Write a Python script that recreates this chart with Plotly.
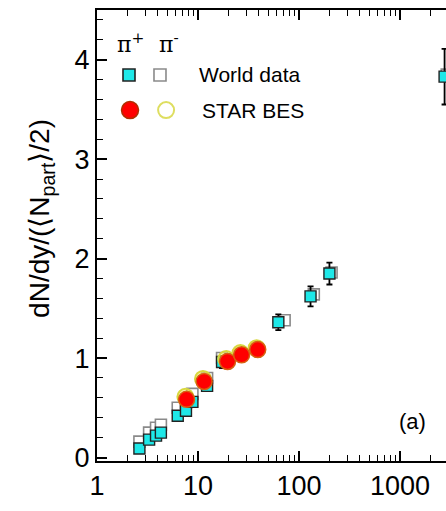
import plotly.graph_objects as go

# ---- data ----
world_energy = [2.63, 3.28, 3.84, 4.29, 6.3, 7.6, 8.8, 12.3, 17.3, 62.4, 130, 200, 2760]
pip_world = [0.09, 0.18, 0.22, 0.25, 0.42, 0.47, 0.56, 0.72, 0.96, 1.36, 1.62, 1.85, 3.83]
pip_world_err = [0.03, 0.03, 0.03, 0.03, 0.04, 0.04, 0.04, 0.05, 0.06, 0.08, 0.10, 0.11, 0.28]
pim_world_energy = [2.63, 3.28, 3.84, 4.29, 6.3, 7.6, 8.8, 12.3, 17.3, 72.0, 140, 210, 2900]
pim_world = [0.16, 0.25, 0.30, 0.33, 0.50, 0.55, 0.64, 0.80, 1.00, 1.38, 1.64, 1.86, 3.85]

star_energy = [7.7, 11.5, 19.6, 27.0, 39.0]
pip_star = [0.585, 0.765, 0.966, 1.033, 1.086]
pip_star_err = [0.06, 0.06, 0.07, 0.07, 0.07]
pim_star_energy = [7.5, 11.2, 19.0, 26.3, 38.0]
pim_star = [0.61, 0.79, 0.99, 1.05, 1.10]

x_tickvals = [1, 10, 100, 1000]
x_ticktext = ["1", "10", "100", "1000"]
y_tickvals = [0, 1, 2, 3, 4]

CYAN = "#1ee8e8"
FONT = "Liberation Sans, Arial, sans-serif"

fig = go.Figure()

# pi- world data (open gray squares)
fig.add_trace(go.Scatter(
    x=pim_world_energy, y=pim_world, mode="markers",
    marker=dict(symbol="square", size=11, color="white",
                line=dict(color="#8a8a8a", width=1.6)),
    showlegend=False))

# pi+ world data
fig.add_trace(go.Scatter(
    x=world_energy, y=pip_world, mode="markers",
    error_y=dict(type="data", array=pip_world_err, color="black", thickness=1.8, width=3),
    marker=dict(symbol="square", size=11, color=CYAN,
                line=dict(color="#222222", width=1.4)),
    showlegend=False))

# pi- STAR BES (open yellow circles)
fig.add_trace(go.Scatter(
    x=pim_star_energy, y=pim_star, mode="markers",
    marker=dict(symbol="circle", size=16, color="rgba(240,240,120,0.6)",
                line=dict(color="#d8d840", width=2)),
    showlegend=False))

# pi+ STAR BES
fig.add_trace(go.Scatter(
    x=star_energy, y=pip_star, mode="markers",
    error_y=dict(type="data", array=pip_star_err, color="black", thickness=1.8, width=3),
    marker=dict(symbol="circle", size=16, color="#ff0000",
                line=dict(color="#d86010", width=1.5)),
    showlegend=False))

# ---- legend keys on an overlay [0,1] axis ----
fig.add_trace(go.Scatter(
    x=[0.0917, 0.1805], y=[0.856, 0.856], mode="markers",
    marker=dict(symbol="square", size=12, color=[CYAN, "white"],
                line=dict(color=["#222222", "#8a8a8a"], width=1.6)),
    xaxis="x2", yaxis="y2", showlegend=False, hoverinfo="skip"))
fig.add_trace(go.Scatter(
    x=[0.0946], y=[0.778], mode="markers",
    marker=dict(symbol="circle", size=17, color="#ff0000",
                line=dict(color="#b03000", width=1.5)),
    xaxis="x2", yaxis="y2", showlegend=False, hoverinfo="skip"))
fig.add_trace(go.Scatter(
    x=[0.198], y=[0.778], mode="markers",
    marker=dict(symbol="circle", size=16, color="white",
                line=dict(color="#dede60", width=2)),
    xaxis="x2", yaxis="y2", showlegend=False, hoverinfo="skip"))

def ann(text, x, y, size, family=FONT, xanchor="center", angle=0):
    return dict(text=text, x=x, y=y, xref="paper", yref="paper",
                xanchor=xanchor, yanchor="middle", textangle=angle,
                showarrow=False, font=dict(size=size, family=family, color="black"))

annotations = [
    ann("π<sup>+</sup>", 0.095, 0.927, 22, family="DejaVu Serif"),
    ann("π<sup>-</sup>", 0.205, 0.927, 22, family="DejaVu Serif"),
    ann("World data", 0.2865, 0.856, 21, xanchor="left"),
    ann("STAR BES", 0.295, 0.778, 21, xanchor="left"),
    ann("(a)", 0.9026, 0.0865, 22),
    ann("dN/dy/(⟨N<sub>part</sub>⟩/2)", -0.1576, 0.539, 28, angle=-90),
]

fig.update_layout(
    width=446, height=511,
    margin=dict(l=97, r=0, t=10, b=50),
    paper_bgcolor="white", plot_bgcolor="white",
    font=dict(family=FONT, color="black"),
    annotations=annotations,
    xaxis=dict(type="log", range=[0, 3.455],
               tickvals=x_tickvals, ticktext=x_ticktext,
               ticks="inside", ticklen=10, tickwidth=1.5, tickcolor="black",
               minor=dict(ticks="inside", ticklen=6, tickwidth=1.2, tickcolor="black",
                          dtick="D1", showgrid=False),
               showline=True, linecolor="black", linewidth=2, mirror="ticks",
               showgrid=False, zeroline=False,
               tickfont=dict(size=27, family=FONT, color="black")),
    yaxis=dict(range=[-0.035, 4.5], tickvals=y_tickvals,
               ticks="inside", ticklen=10, tickwidth=1.5, tickcolor="black",
               minor=dict(ticks="inside", ticklen=6, tickwidth=1.2, tickcolor="black",
                          dtick=0.2, showgrid=False),
               showline=True, linecolor="black", linewidth=2, mirror=False,
               showgrid=False, zeroline=False,
               tickfont=dict(size=27, family=FONT, color="black")),
    xaxis2=dict(range=[0, 1], overlaying="x", visible=False, fixedrange=True),
    yaxis2=dict(range=[0, 1], overlaying="y", visible=False, fixedrange=True),
)

fig.write_html("out.html", config={"displayModeBar": False},
               post_script="document.body.style.margin='0';document.body.style.overflow='hidden';")
